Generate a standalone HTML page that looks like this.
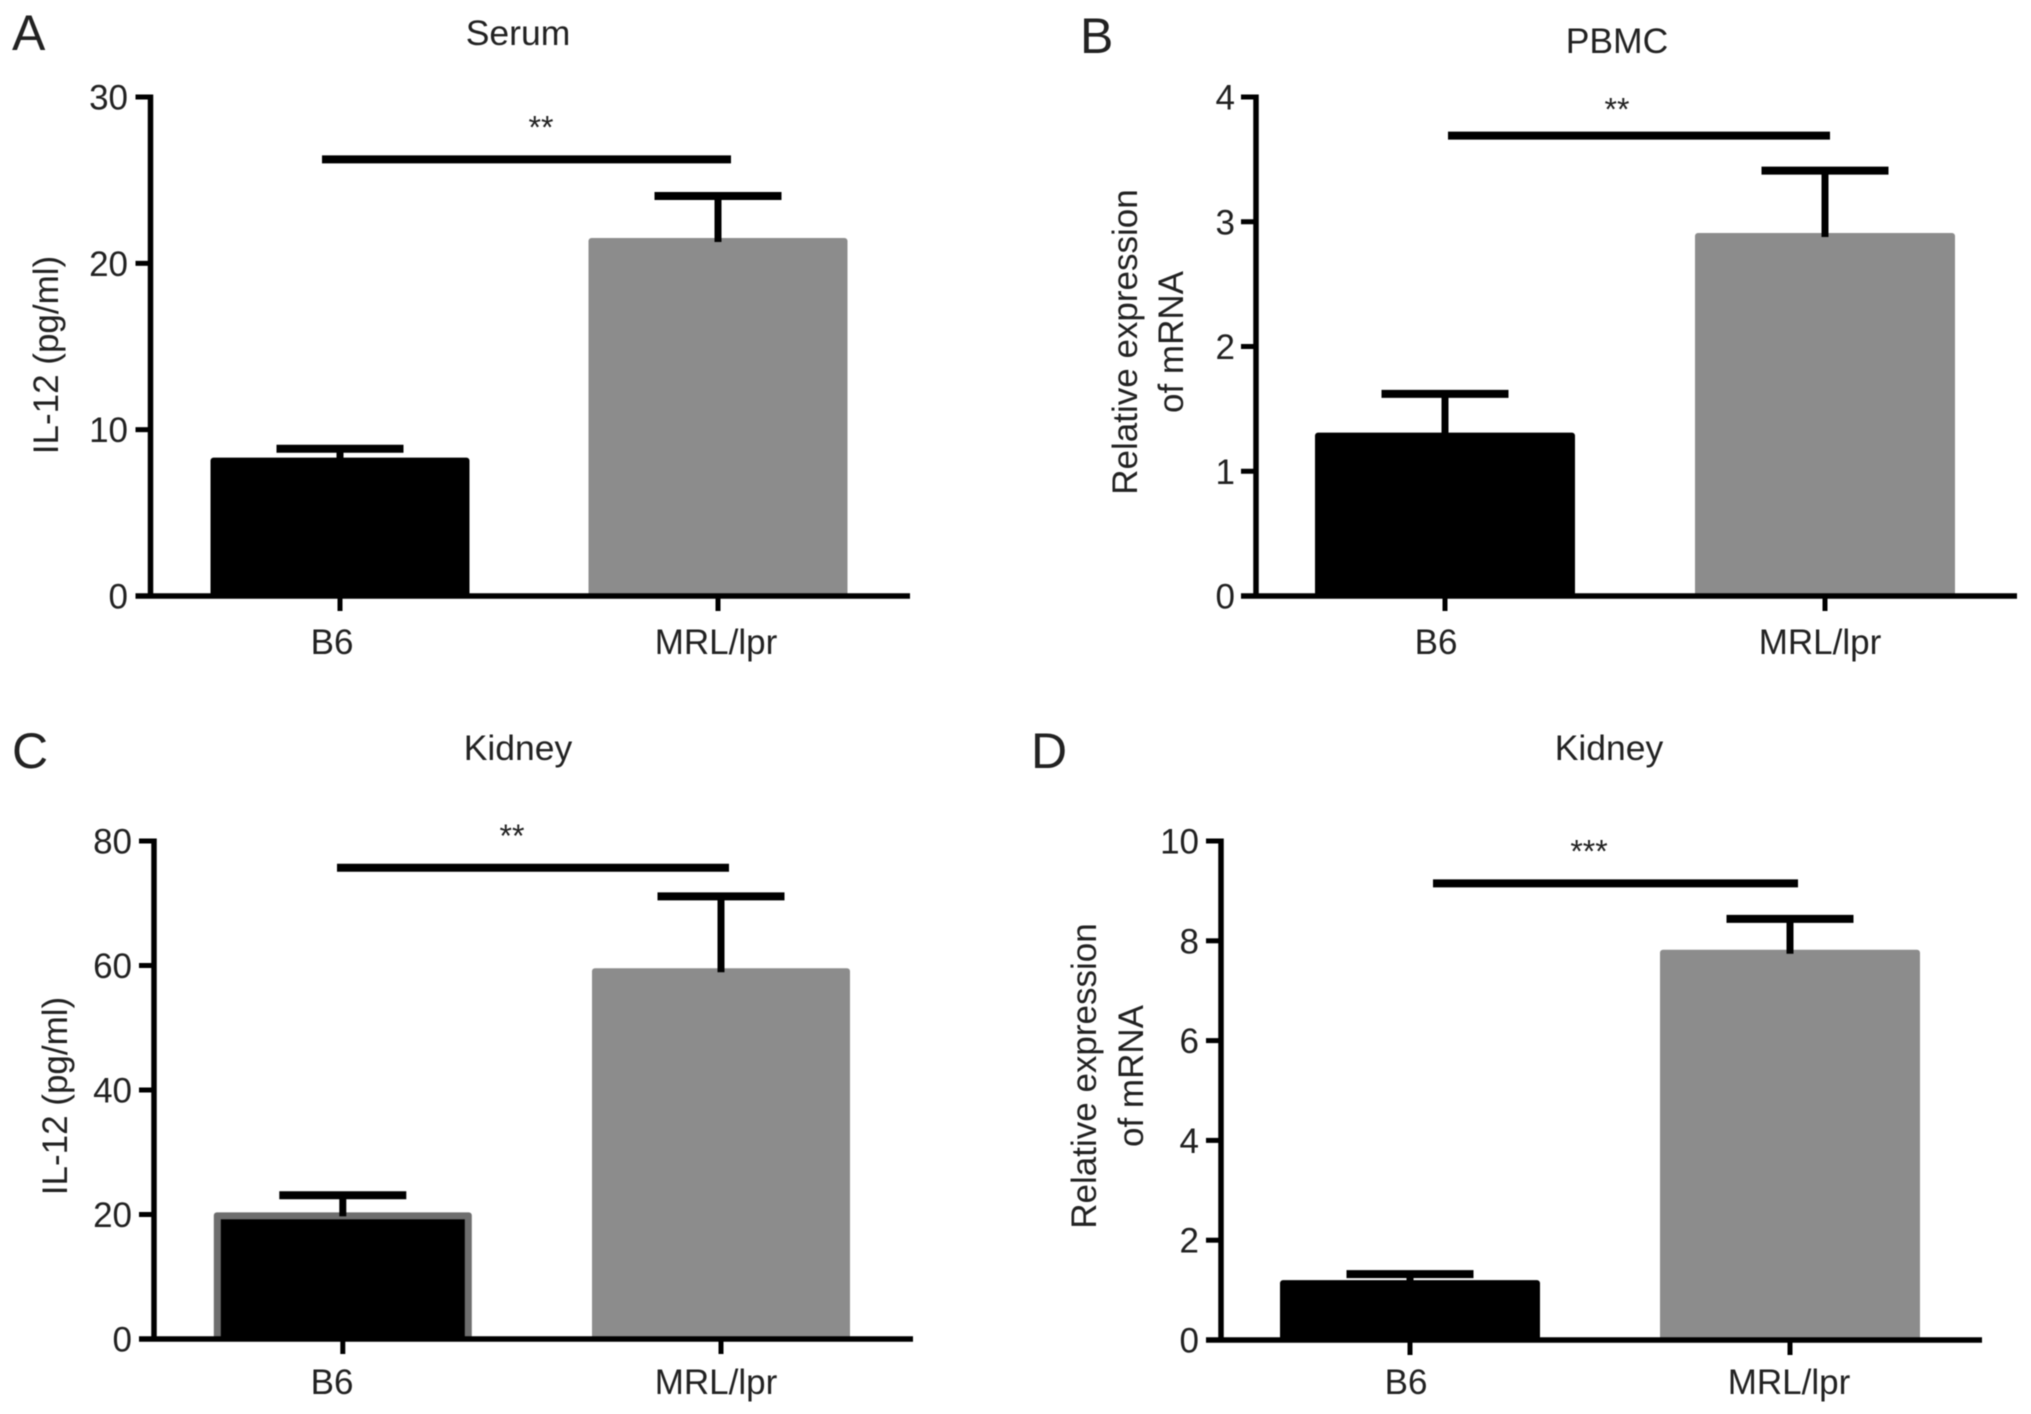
<!DOCTYPE html>
<html lang="en">
<head>
<meta charset="utf-8">
<title>IL-12 levels in B6 and MRL/lpr mice</title>
<style>
html,body{margin:0;padding:0;background:#fff;width:2031px;height:1414px;overflow:hidden}
svg{display:block;filter:blur(0.6px)}
text{font-family:"Liberation Sans",Arial,sans-serif;fill:#222}
.letter{font-size:50px}
.title{font-size:35.5px;text-anchor:middle}
.ytitle{font-size:35px;text-anchor:middle}
</style>
</head>
<body>
<svg id="figure" xmlns="http://www.w3.org/2000/svg" width="2031" height="1414" viewBox="0 0 2031 1414">
  <rect x="0" y="0" width="2031" height="1414" fill="#ffffff"/>

  <text class="letter" x="12" y="50">A</text>
  <text class="title" x="518" y="45">Serum</text>
  <text class="ytitle" transform="translate(58 355) rotate(-90)">IL-12 (pg/ml)</text>

  <text class="letter" x="1080" y="53">B</text>
  <text class="title" x="1617" y="53">PBMC</text>
  <text class="ytitle" transform="translate(1137 342) rotate(-90)">Relative expression</text>
  <text class="ytitle" transform="translate(1183 342) rotate(-90)">of mRNA</text>

  <text class="letter" x="12" y="768">C</text>
  <text class="title" x="518" y="760">Kidney</text>
  <text class="ytitle" transform="translate(67 1096) rotate(-90)">IL-12 (pg/ml)</text>

  <text class="letter" x="1031" y="768">D</text>
  <text class="title" x="1609" y="760">Kidney</text>
  <text class="ytitle" transform="translate(1096 1076) rotate(-90)">Relative expression</text>
  <text class="ytitle" transform="translate(1143 1076) rotate(-90)">of mRNA</text>
</svg>
<script>
// Chart data
const categories = ['B6', 'MRL/lpr'];

const ticksA = [0, 10, 20, 30];
const meansA = [8.32, 21.52];
const upperA = [8.85, 24.05];
const sigLevelA = 26.25;
const sigLabelA = '**';

const ticksB = [0, 1, 2, 3, 4];
const meansB = [1.31, 2.91];
const upperB = [1.62, 3.41];
const sigLevelB = 3.69;
const sigLabelB = '**';

const ticksC = [0, 20, 40, 60, 80];
const meansC = [20.35, 59.55];
const upperC = [23.1, 71.1];
const sigLevelC = 75.7;
const sigLabelC = '**';

const ticksD = [0, 2, 4, 6, 8, 10];
const meansD = [1.2, 7.82];
const upperD = [1.32, 8.44];
const sigLevelD = 9.15;
const sigLabelD = '***';

// Panel layout (pixels), kept apart from the data
const panels = [
  {id:'a', ticks:ticksA, means:meansA, upper:upperA, sigLevel:sigLevelA, sigLabel:sigLabelA,
   axisX:150.5, axisRight:910, y0:596, yTop:97, centers:[340,718], barW:259, capW:127,
   sigX:[322,731], starX:541, starGap:21, labelX:[332,716], labelY:654, tickRight:128, barBorder:false},
  {id:'b', ticks:ticksB, means:meansB, upper:upperB, sigLevel:sigLevelB, sigLabel:sigLabelB,
   axisX:1256, axisRight:2017, y0:596, yTop:97, centers:[1445,1825], barW:260, capW:127,
   sigX:[1448,1830], starX:1617, starGap:15, labelX:[1436,1820], labelY:654, tickRight:1235, barBorder:false},
  {id:'c', ticks:ticksC, means:meansC, upper:upperC, sigLevel:sigLevelC, sigLabel:sigLabelC,
   axisX:154, axisRight:913, y0:1339, yTop:841, centers:[342.8,721], barW:258, capW:127,
   sigX:[337,729], starX:512, starGap:21, labelX:[332,716], labelY:1394, tickRight:132, barBorder:true},
  {id:'d', ticks:ticksD, means:meansD, upper:upperD, sigLevel:sigLevelD, sigLabel:sigLabelD,
   axisX:1221, axisRight:1982, y0:1340, yTop:841, centers:[1410,1790], barW:260, capW:127,
   sigX:[1433,1798], starX:1589, starGap:21, labelX:[1406,1789], labelY:1394, tickRight:1199, barBorder:false}
];

const svg = document.getElementById('figure');
const NS = 'http://www.w3.org/2000/svg';

function make(tag, attrs) {
  const el = document.createElementNS(NS, tag);
  for (const k in attrs) el.setAttribute(k, attrs[k]);
  svg.appendChild(el);
  return el;
}

panels.forEach(function (p) {
  const maxTick = p.ticks[p.ticks.length - 1];
  const yScale = function (v) { return p.y0 - (v / maxTick) * (p.y0 - p.yTop); };

  // bars
  categories.forEach(function (cat, i) {
    const top = yScale(p.means[i]);
    const bar = make('rect', {x: p.centers[i] - p.barW / 2, y: top, width: p.barW, height: p.y0 - top, rx: 3,
      fill: i === 0 ? '#000000' : '#8c8c8c'});
    
    
    if (i === 0 && p.barBorder) {
      bar.setAttribute('fill', '#6e6e6e');
      const inner = make('rect', {x: p.centers[i] - p.barW / 2 + 7, y: top + 7, width: p.barW - 14, height: p.y0 - top - 7, fill: '#000000'});
      
      
    }

    // error bar
    const errTop = yScale(p.upper[i]);
    const stem = make('line', {x1: p.centers[i], x2: p.centers[i], y1: errTop, y2: top + 4, stroke: '#000', 'stroke-width': 7});
    
    
    const cap = make('line', {x1: p.centers[i] - p.capW / 2, x2: p.centers[i] + p.capW / 2, y1: errTop, y2: errTop, stroke: '#000', 'stroke-width': 8});
    
    

    // category tick and label
    const xt = make('line', {x1: p.centers[i], x2: p.centers[i], y1: p.y0, y2: p.y0 + 15, stroke: '#000', 'stroke-width': 5});
    
    
    const xl = make('text', {x: p.labelX[i], y: p.labelY, 'text-anchor': 'middle', 'font-size': 35});
    xl.textContent = cat;
    
    
  });

  // axes
  const yAxis = make('line', {x1: p.axisX, x2: p.axisX, y1: p.yTop - 2.5, y2: p.y0 + 2.5, stroke: '#000', 'stroke-width': 5.5});
  
  
  const xAxis = make('line', {x1: p.axisX - 15, x2: p.axisRight, y1: p.y0, y2: p.y0, stroke: '#000', 'stroke-width': 5.5});
  
  

  // y ticks
  p.ticks.forEach(function (t) {
    const y = yScale(t);
    const tk = make('line', {x1: p.axisX - 15, x2: p.axisX, y1: y, y2: y, stroke: '#000', 'stroke-width': 5});
    
    
    const lb = make('text', {x: p.tickRight, y: y + 12.5, 'text-anchor': 'end', 'font-size': 35});
    lb.textContent = String(t);
    
    
  });

  // significance bracket
  const sy = yScale(p.sigLevel);
  const sig = make('line', {x1: p.sigX[0], x2: p.sigX[1], y1: sy, y2: sy, stroke: '#000', 'stroke-width': 8});
  
  
  const star = make('text', {x: p.starX, y: sy - p.starGap, 'text-anchor': 'middle', 'font-size': 32});
  star.textContent = p.sigLabel;
  
  
});
</script>
</body>
</html>
